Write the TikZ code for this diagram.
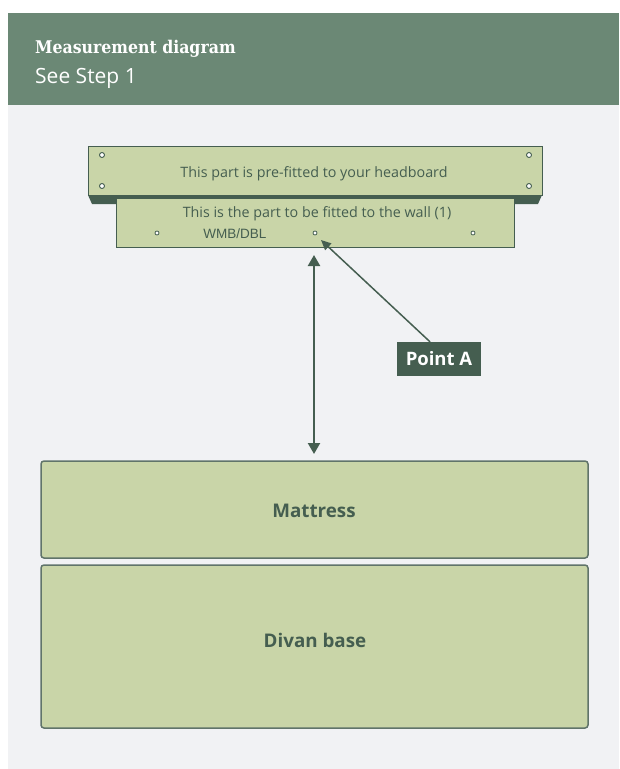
\documentclass[tikz,border=0pt]{standalone}
\usepackage{fontspec}
\setmainfont{Open Sans}
\newfontfamily\titlefont{DejaVu Serif Condensed}
\newfontfamily\arialfont{Liberation Sans}
\usetikzlibrary{arrows.meta,calc}
\definecolor{hdr}{RGB}{107,136,117}
\definecolor{bgc}{RGB}{241,242,244}
\definecolor{boardc}{RGB}{201,213,168}
\definecolor{dk}{RGB}{69,94,80}
\definecolor{edgec}{RGB}{96,116,106}
\tikzset{
  hole/.style={circle, draw=dk, fill=white, line width=0.9pt, inner sep=0pt, minimum size=5pt},
  smallhole/.style={circle, draw=dk, fill=white, line width=0.8pt, inner sep=0pt, minimum size=4pt},
  boardtext/.style={anchor=base, inner sep=0pt, text=dk, font=\fontsize{14.3}{16}\selectfont},
  bigtext/.style={anchor=base, inner sep=0pt, text=dk, font=\bfseries\fontsize{18.8}{22}\selectfont},
  bedbox/.style={draw=edgec, fill=boardc, line width=1.5pt, rounded corners=3pt},
  boardbox/.style={draw=dk, fill=boardc, line width=1pt},
}
\begin{document}
\begin{tikzpicture}[x=1pt,y=-1pt]
\useasboundingbox (0,0) rectangle (619,769);
\fill[white] (0,0) rectangle (619,769);
\fill[hdr] (8,13) rectangle (619,105);
\fill[bgc] (8,105) rectangle (619,769);

% header texts
\node[anchor=base west, inner sep=0pt, text=white, font=\titlefont\bfseries\fontsize{17.5}{20}\selectfont] (title) at (35,53) {Measurement diagram};
\node[anchor=base west, inner sep=0pt, text=white, font=\fontsize{21}{24}\selectfont] (sub) at (35,83) {See Step 1};

% headboard part
\fill[dk] (88,195) -- (542,195) -- (538,204) -- (92,204) -- cycle;
\draw[boardbox] (88,146) rectangle (542,195);
\node[hole] (h1) at (102,155) {};
\node[hole] (h2) at (102,186) {};
\node[hole] (h3) at (529,155) {};
\node[hole] (h4) at (529,186) {};
\node[boardtext] (t1) at (314,177) {This part is pre-fitted to your headboard};

% wall part
\draw[boardbox] (116,198) rectangle (514,247);
\node[boardtext] (t2) at (317,217) {This is the part to be fitted to the wall (1)};
\node[smallhole] (s1) at (157,233) {};
\node[smallhole] (s2) at (315,233) {};
\node[smallhole] (s3) at (473,233) {};
\node[anchor=base, inner sep=0pt, text=dk, font=\arialfont\fontsize{13.5}{15}\selectfont] (wmb) at (235,238) {WMB/DBL};

% mattress and base
\draw[bedbox] (41,461) rectangle (588,558);
\draw[bedbox] (41,565) rectangle (588,728);
\node[bigtext] (matt) at (314,517) {Mattress};
\node[bigtext] (divan) at (315,647) {Divan base};

% measurement arrow
\coordinate (mtop) at (314,247);
\coordinate (mbot) at (314,461);
\draw[dk, line width=2.2pt, {Triangle[width=12pt,length=11pt]}-{Triangle[width=12pt,length=11pt]}, shorten <=8pt, shorten >=7pt] (mtop) -- (mbot);

% Point A
\node[fill=dk, text=white, font=\bfseries\fontsize{18.5}{22}\selectfont, minimum width=84pt, minimum height=34pt, inner sep=0pt] (pa) at (439,359) {Point A};
\coordinate (ptA) at (321,240);
\draw[dk, line width=1.5pt, -{Triangle[width=9pt,length=10pt]}] ([xshift=-9pt]pa.north) -- (ptA);
\end{tikzpicture}
\end{document}
